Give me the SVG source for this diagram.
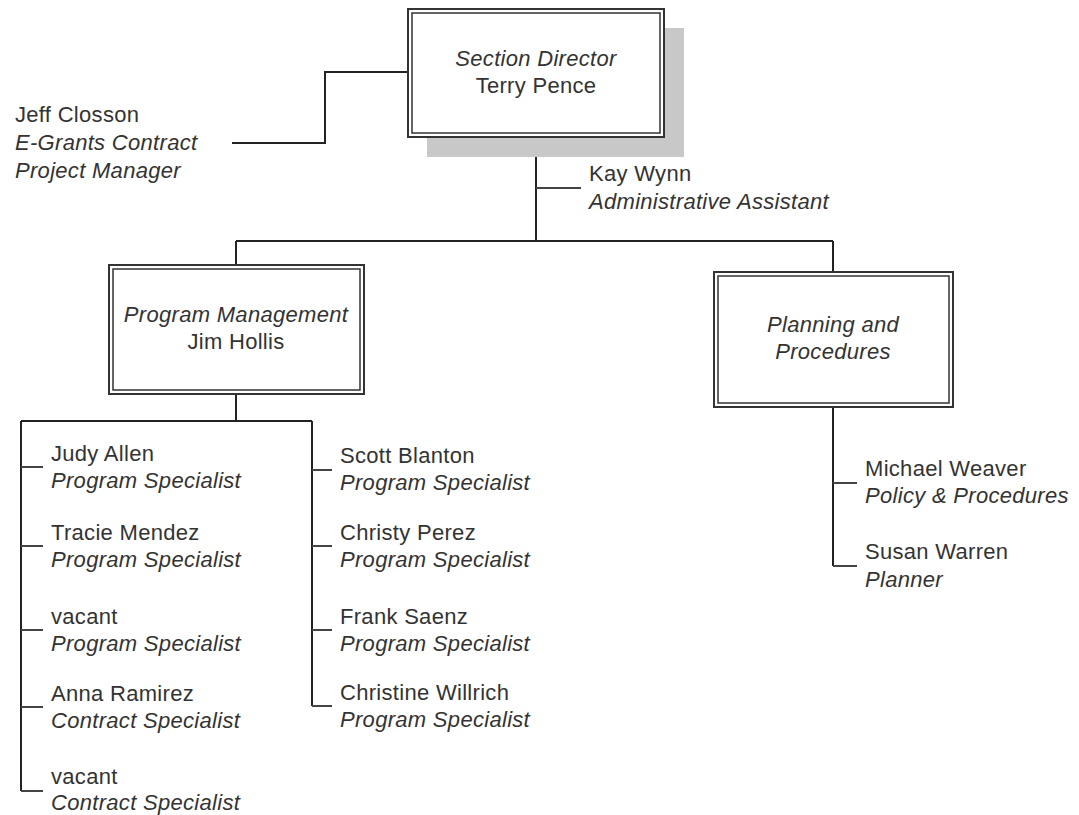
<svg xmlns="http://www.w3.org/2000/svg" width="1079" height="815" viewBox="0 0 1079 815">
<style>
text{font-family:"Liberation Sans",Arial,sans-serif;font-size:22px;fill:#333;letter-spacing:0.3px}
.i{font-style:italic}
.c{text-anchor:middle}
.o{fill:#fff;stroke:#333;stroke-width:2}
.in{fill:none;stroke:#333;stroke-width:1.5}
.ln{fill:none;stroke:#222;stroke-width:2}
.br{fill:none;stroke:#444;stroke-width:2}
</style>
<rect width="1079" height="815" fill="#fff"/>
<g id="connectors">
<path class="ln" d="M408 72H325V143H232"/>
<path class="ln" d="M536 137V241"/>
<path class="br" d="M536 188H581"/>
<path class="ln" d="M236 241H833M236 241V265M833 241V272"/>
<path class="ln" d="M236 394V421M21 421H312M21 421V791M312 421V706"/>
<path class="br" d="M21 467H43M21 546H43M21 630H43M21 707H43M21 791H43"/>
<path class="br" d="M312 470H332M312 546H332M312 630H332M312 706H332"/>
<path class="ln" d="M833 407V566"/>
<path class="br" d="M833 483H857M833 566H857"/>
</g>
<g id="director">
<rect x="427" y="28" width="257" height="129" fill="#c8c8c8"/>
<rect class="o" x="408" y="9" width="256" height="128"/>
<rect class="in" x="412" y="13" width="248" height="120"/>
<text class="c i" x="536" y="66">Section Director</text>
<text class="c" x="536" y="93">Terry Pence</text>
</g>
<g id="jeff">
<text x="15" y="122">Jeff Closson</text>
<text class="i" x="15" y="150">E-Grants Contract</text>
<text class="i" x="15" y="178">Project Manager</text>
</g>
<g id="kay">
<text x="589" y="181">Kay Wynn</text>
<text class="i" x="589" y="209">Administrative Assistant</text>
</g>
<g id="program">
<rect class="o" x="109" y="265" width="255" height="129"/>
<rect class="in" x="113" y="269" width="247" height="121"/>
<text class="c i" x="236" y="322">Program Management</text>
<text class="c" x="236" y="349">Jim Hollis</text>
</g>
<g id="planning">
<rect class="o" x="714" y="272" width="239" height="135"/>
<rect class="in" x="718" y="276" width="231" height="127"/>
<text class="c i" x="833" y="332">Planning and</text>
<text class="c i" x="833" y="359">Procedures</text>
</g>
<g id="judy"><text x="51" y="461">Judy Allen</text><text class="i" x="51" y="488">Program Specialist</text></g>
<g id="tracie"><text x="51" y="540">Tracie Mendez</text><text class="i" x="51" y="567">Program Specialist</text></g>
<g id="vacant1"><text x="51" y="624">vacant</text><text class="i" x="51" y="651">Program Specialist</text></g>
<g id="anna"><text x="51" y="701">Anna Ramirez</text><text class="i" x="51" y="728">Contract Specialist</text></g>
<g id="vacant2"><text x="51" y="784">vacant</text><text class="i" x="51" y="810">Contract Specialist</text></g>
<g id="scott"><text x="340" y="463">Scott Blanton</text><text class="i" x="340" y="490">Program Specialist</text></g>
<g id="christy"><text x="340" y="540">Christy Perez</text><text class="i" x="340" y="567">Program Specialist</text></g>
<g id="frank"><text x="340" y="624">Frank Saenz</text><text class="i" x="340" y="651">Program Specialist</text></g>
<g id="christine"><text x="340" y="700">Christine Willrich</text><text class="i" x="340" y="727">Program Specialist</text></g>
<g id="michael"><text x="865" y="476">Michael Weaver</text><text class="i" x="865" y="503">Policy &amp; Procedures</text></g>
<g id="susan"><text x="865" y="559">Susan Warren</text><text class="i" x="865" y="587">Planner</text></g>
</svg>
